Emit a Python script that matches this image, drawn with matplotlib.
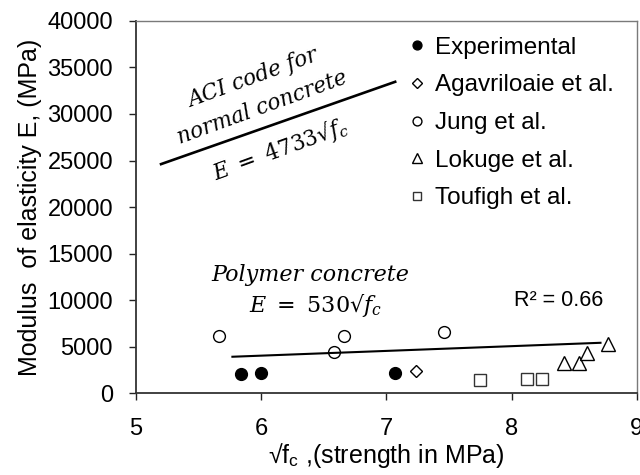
import matplotlib
matplotlib.use("Agg")
import matplotlib.pyplot as plt

plt.rcParams['font.family'] = ['Liberation Sans', 'DejaVu Sans']
plt.rcParams['mathtext.fontset'] = 'dejavuserif'

# sqrt(f'c) in MPa^0.5 and modulus of elasticity in MPa
exp_x = [5.84, 6.00, 7.07]
exp_E = [2050, 2170, 2170]
agav_x = [7.24]
agav_E = [2420]
jung_x = [5.665, 6.58, 6.66, 7.46]
jung_E = [6100, 4440, 6100, 6600]
lok_x = [8.42, 8.54, 8.60, 8.77]
lok_E = [3200, 3270, 4330, 5220]
touf_x = [7.745, 8.12, 8.24]
touf_E = [1420, 1520, 1520]

series_labels = ['Experimental', 'Agavriloaie et al.', 'Jung et al.',
                 'Lokuge et al.', 'Toufigh et al.']

# ACI relation E = 4733 sqrt(f'c)
aci_coef = 4733
aci_x = [5.2, 7.07]
# fitted trend for polymer concrete
poly_coef = 530
poly_x = [5.77, 8.71]
poly_E = [3900, 5400]
r2_value = 0.66

x_ticks = [5, 6, 7, 8, 9]
y_ticks = [0, 5000, 10000, 15000, 20000, 25000, 30000, 35000, 40000]

fig = plt.figure(figsize=(6.4, 4.75), dpi=100)
ax = fig.add_axes([0.2125, 0.1726, 0.7825, 0.7832])

ms = 8.5
h1, = ax.plot(exp_x, exp_E, 'o', ms=ms, mfc='black', mec='black', ls='none')
h2, = ax.plot(agav_x, agav_E, 'D', ms=6.5, mfc='white', mec='black', mew=1.0, ls='none')
h3, = ax.plot(jung_x, jung_E, 'o', ms=ms, mfc='white', mec='black', mew=1.0, ls='none')
h4, = ax.plot(lok_x, lok_E, '^', ms=ms + 1, mfc='white', mec='black', mew=1.0, ls='none')
h5, = ax.plot(touf_x, touf_E, 's', ms=ms, mfc='white', mec='#333333', mew=1.0, ls='none')

ax.plot(aci_x, [aci_coef * v for v in aci_x], color='black', lw=1.9)
ax.plot(poly_x, poly_E, color='black', lw=1.5)

ax.set_xlim(5, 9)
ax.set_ylim(0, 40000)
ax.set_xticks(x_ticks)
ax.set_yticks(y_ticks)
ax.tick_params(axis='both', direction='out', length=5, width=1, labelsize=17,
               colors='#222222', labelcolor='black')
ax.tick_params(axis='y', pad=11.5)
ax.tick_params(axis='x', pad=13)
for side in ['left', 'bottom']:
    ax.spines[side].set_color('#333333')
    ax.spines[side].set_linewidth(1.3)
for side in ['top', 'right']:
    ax.spines[side].set_color('#7a7a7a')
    ax.spines[side].set_linewidth(1.0)

ax.set_ylabel('Modulus  of elasticity E, (MPa)', fontsize=18, labelpad=4)
ax.set_xlabel('√f$_\\mathregular{c}$ ,(strength in MPa)', fontsize=18, labelpad=1)

serif = dict(family='DejaVu Serif', style='italic',
             ha='center', va='center', rotation_mode='anchor')
ax.text(5.934, 33835, 'ACI code for', rotation=20, fontsize=15.5, **serif)
ax.text(6.006, 30720, 'normal concrete', rotation=20, fontsize=15.5, **serif)
ax.text(6.149, 26100, r'$E\ =\ %d$√$f_c$' % aci_coef, rotation=20, fontsize=15.5, **serif)
ax.text(6.389, 12675, 'Polymer concrete', fontsize=16, **serif)
ax.text(6.437, 9450, r'$E\ =\ %d$√$f_c$' % poly_coef, fontsize=16, **serif)

ax.text(8.376, 9990, 'R² = %.2f' % r2_value, fontsize=15.5, ha='center', va='center')

ax.legend([h1, h2, h3, h4, h5], series_labels, loc='upper left',
          bbox_to_anchor=(0.5463, 0.958), frameon=False, fontsize=17.5,
          handlelength=0.6, handletextpad=0.44, borderpad=0, borderaxespad=0,
          labelspacing=0.645, markerscale=0.75)

fig.savefig('out.png', dpi=100)
